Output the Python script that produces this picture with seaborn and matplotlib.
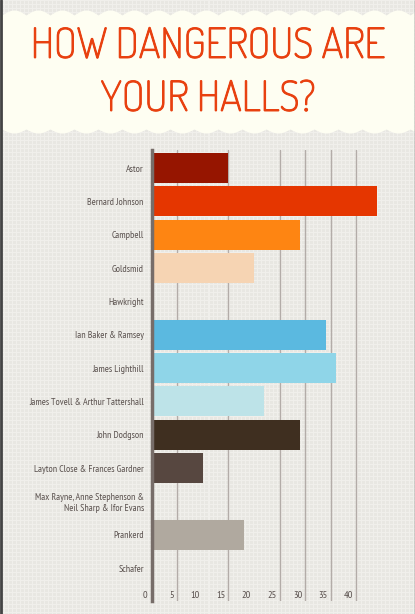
import numpy as np
import matplotlib
matplotlib.use('Agg')
import matplotlib.pyplot as plt
import matplotlib.patheffects as pe
import seaborn as sns

halls = ['Astor', 'Bernard Johnson', 'Campbell', 'Goldsmid', 'Hawkright',
         'Ian Baker & Ramsey', 'James Lighthill',
         'James Tovell & Arthur Tattershall', 'John Dodgson',
         'Layton Close & Frances Gardner',
         'Max Rayne, Anne Stephenson &\nNeil Sharp & Ifor Evans',
         'Prankerd', 'Schafer']
incidents = [15, 44, 29, 20, 0, 34, 36, 22, 29, 10, 0, 18, 0]
colors = ['#961500', '#e53600', '#fe8512', '#f6d4b3', '#cccccc',
          '#5bb9e0', '#8fd5e8', '#bde3e8', '#3f2f20', '#574740',
          '#cccccc', '#b0a99f', '#cccccc']
ticks = [0, 5, 10, 15, 20, 25, 30, 35, 40]
grid_at = [5, 15, 25, 30, 35, 40]

sns.set_style('white')
label_font = ['PT Sans Narrow', 'Archivo Narrow', 'DejaVu Sans']
plt.rcParams['font.family'] = label_font

W, H = 415, 614
bg = '#e9e8e3'
fig = plt.figure(figsize=(W / 100, H / 100), dpi=100)
fig.patch.set_facecolor(bg)

# background layer in pixel units: paper texture, banner, borders
back = fig.add_axes([0, 0, 1, 1], zorder=0)
tex = np.ones((H, W, 3)) * np.array([0xe8, 0xe7, 0xe2]) / 255
light = np.array([0xf0, 0xef, 0xeb]) / 255
tex[::4, :, :] = light
tex[:, ::4, :] = light
back.imshow(tex, extent=(0, W, H, 0), interpolation='nearest', aspect='auto')
back.set_xlim(0, W)
back.set_ylim(H, 0)
back.axis('off')
xs = np.linspace(2, W - 1, 800)
wave = np.abs(np.sin(np.pi * (xs - 2) / 24))
top_edge = 10 + 5 * (1 - wave)
bot_edge = 133 - 4 * (1 - wave)
back.fill_between(xs, top_edge, bot_edge, color='#fefef2', lw=0)
back.axvline(1, color='#444444', lw=2)
back.axvline(414.5, color='#555555', lw=1)
title_font = ['Dosis', 'DejaVu Sans']
thick = [pe.withStroke(linewidth=0.7, foreground='#e8400f')]
back.text(208, 47, 'HOW DANGEROUS ARE', ha='center', va='center',
          fontsize=30, color='#e8400f', family=title_font, path_effects=thick)
back.text(208, 100, 'YOUR HALLS?', ha='center', va='center',
          fontsize=30, color='#e8400f', family=title_font, path_effects=thick)

# chart
ax = fig.add_axes([151.5 / W, 13 / H, 230.4 / W, 451 / H], zorder=1)
ax.patch.set_alpha(0)
sns.barplot(x=incidents, y=halls, hue=halls, palette=colors, orient='h',
            width=0.9, saturation=1, legend=False, linewidth=0, ax=ax, zorder=3)
ax.set_xlim(0, 45)
ax.set_ylim(12.99, -0.54)
for v in grid_at:
    ax.axvline(v, color='#b3aca8', lw=1, zorder=1)
for s in ['top', 'right', 'bottom']:
    ax.spines[s].set_visible(False)
ax.spines['left'].set_color('#776d69')
ax.spines['left'].set_linewidth(2.5)
ax.spines['left'].set_zorder(4)
ax.set_xticks([])
ax.tick_params(axis='y', length=0, pad=5.5, labelsize=7.1, labelcolor='#5a514e')
for lab in ax.get_yticklabels():
    lab.set_multialignment('right')
ax.set_xlabel('')
ax.set_ylabel('')
for v in ticks:
    off = 0.85 if v == 0 else 0.55
    ax.text(v - off, 12.81, str(v), ha='right', va='center', fontsize=7.5,
            color='#5a514e', clip_on=False)

fig.savefig('out.png', dpi=100, facecolor=bg)
